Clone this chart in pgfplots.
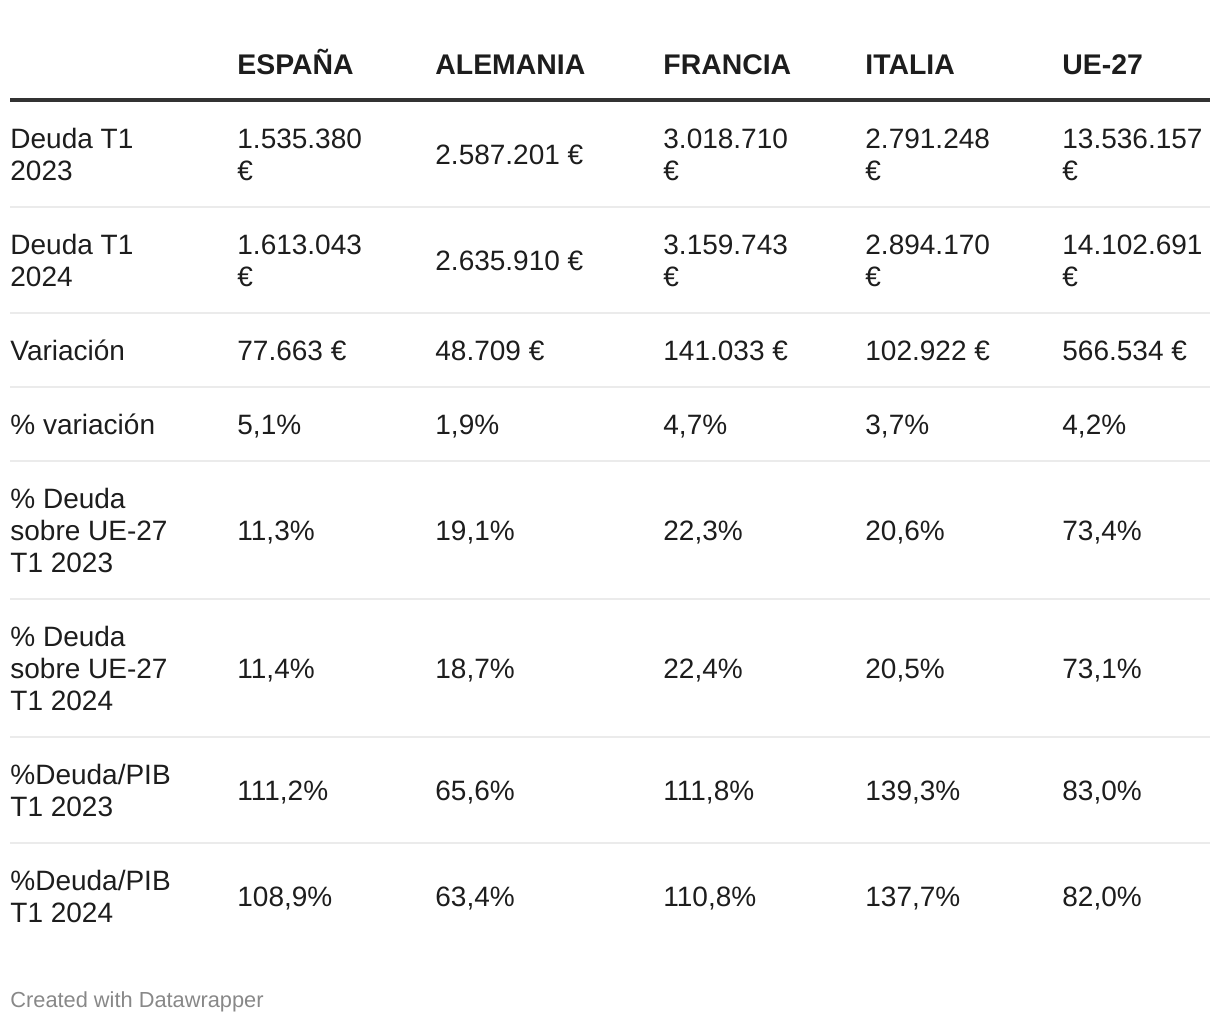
\documentclass[border=0pt]{standalone}
\usepackage{fontspec}
\setmainfont{Liberation Sans}
\usepackage{xcolor}
\usepackage{pgfplots}
\pgfplotsset{compat=1.18}

\definecolor{txtc}{HTML}{1D1D1D}
\definecolor{rulec}{HTML}{333333}
\definecolor{thinc}{HTML}{EBEBEB}
\definecolor{footc}{HTML}{888888}

% one cell line: x, baseline y (pixels), text
\newcommand{\T}[3]{\node[anchor=base west,inner sep=0pt,text=txtc,font=\fontsize{14}{16}\selectfont] at (axis cs:#1,#2) {#3};}
\newcommand{\Hd}[2]{\node[anchor=base west,inner sep=0pt,text=txtc,font=\fontsize{14.2}{16}\selectfont\bfseries] at (axis cs:#1,74) {#2};}

\begin{document}
\begin{tikzpicture}
\begin{axis}[
    x=0.5pt, y=0.5pt,
    xmin=0, xmax=1220, ymin=0, ymax=1024,
    y dir=reverse,
    scale only axis,
    hide axis,
    clip=false,
]
% page frame, so the picture keeps its full size
\path (axis cs:0,0) rectangle (axis cs:1220,1024);

% rules
\addplot[rulec,line width=2pt] coordinates {(10,100) (1210,100)};
\foreach \yy in {207,313,387,461,599,737,843}{
  \edef\tmp{\noexpand\addplot[thinc,line width=1pt] coordinates {(10,\yy) (1210,\yy)};}
  \tmp
}

% header
\Hd{237}{ESPAÑA}
\Hd{435}{ALEMANIA}
\Hd{663}{FRANCIA}
\Hd{865}{ITALIA}
\Hd{1062}{UE-27}

% row 1
\T{10}{148}{Deuda T1}\T{10}{180}{2023}
\T{237}{148}{1.535.380}\T{237}{180}{€}
\T{435}{164}{2.587.201 €}
\T{663}{148}{3.018.710}\T{663}{180}{€}
\T{865}{148}{2.791.248}\T{865}{180}{€}
\T{1062}{148}{13.536.157}\T{1062}{180}{€}

% row 2
\T{10}{254}{Deuda T1}\T{10}{286}{2024}
\T{237}{254}{1.613.043}\T{237}{286}{€}
\T{435}{270}{2.635.910 €}
\T{663}{254}{3.159.743}\T{663}{286}{€}
\T{865}{254}{2.894.170}\T{865}{286}{€}
\T{1062}{254}{14.102.691}\T{1062}{286}{€}

% row 3
\T{10}{360}{Variación}
\T{237}{360}{77.663 €}
\T{435}{360}{48.709 €}
\T{663}{360}{141.033 €}
\T{865}{360}{102.922 €}
\T{1062}{360}{566.534 €}

% row 4
\T{10}{434}{\% variación}
\T{237}{434}{5,1\%}
\T{435}{434}{1,9\%}
\T{663}{434}{4,7\%}
\T{865}{434}{3,7\%}
\T{1062}{434}{4,2\%}

% row 5
\T{10}{508}{\% Deuda}\T{10}{540}{sobre UE-27}\T{10}{572}{T1 2023}
\T{237}{540}{11,3\%}
\T{435}{540}{19,1\%}
\T{663}{540}{22,3\%}
\T{865}{540}{20,6\%}
\T{1062}{540}{73,4\%}

% row 6
\T{10}{646}{\% Deuda}\T{10}{678}{sobre UE-27}\T{10}{710}{T1 2024}
\T{237}{678}{11,4\%}
\T{435}{678}{18,7\%}
\T{663}{678}{22,4\%}
\T{865}{678}{20,5\%}
\T{1062}{678}{73,1\%}

% row 7
\T{10}{784}{\%Deuda/PIB}\T{10}{816}{T1 2023}
\T{237}{800}{111,2\%}
\T{435}{800}{65,6\%}
\T{663}{800}{111,8\%}
\T{865}{800}{139,3\%}
\T{1062}{800}{83,0\%}

% row 8
\T{10}{890}{\%Deuda/PIB}\T{10}{922}{T1 2024}
\T{237}{906}{108,9\%}
\T{435}{906}{63,4\%}
\T{663}{906}{110,8\%}
\T{865}{906}{137,7\%}
\T{1062}{906}{82,0\%}

% footer
\node[anchor=base west,inner sep=0pt,text=footc,font=\fontsize{10.9}{12}\selectfont] at (axis cs:10,1007) {Created with Datawrapper};
\end{axis}
\end{tikzpicture}
\end{document}
